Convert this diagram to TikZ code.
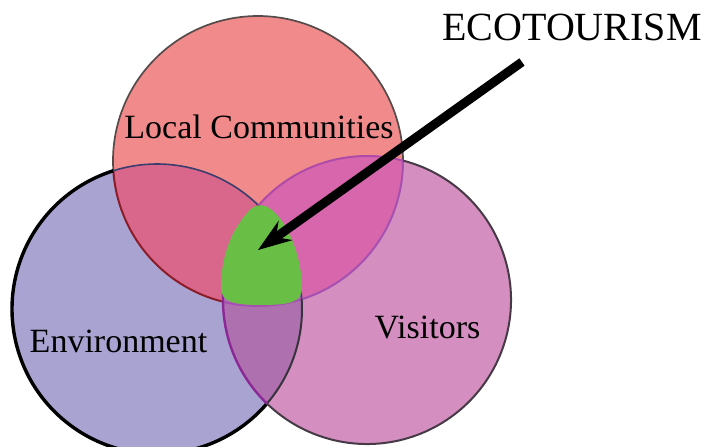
\documentclass[tikz,border=0pt]{standalone}
\usepackage{fontspec}
\setmainfont{Liberation Serif}
\usetikzlibrary{arrows.meta}

\definecolor{redfill}{RGB}{241,139,139}
\definecolor{bluefill}{RGB}{169,163,209}
\definecolor{purplefill}{RGB}{212,142,192}
\definecolor{redblue}{RGB}{216,103,139}
\definecolor{redpurple}{RGB}{216,102,172}
\definecolor{bluepurple}{RGB}{175,112,176}
\definecolor{ecogreen}{RGB}{105,190,70}
\definecolor{redline}{RGB}{85,75,75}
\definecolor{purpleline}{RGB}{70,58,70}
\definecolor{redinblue}{RGB}{140,28,40}
\definecolor{blueinred}{RGB}{60,60,110}
\definecolor{purpleinred}{RGB}{176,74,168}
\definecolor{redinpurple}{RGB}{166,80,178}
\definecolor{purpleinblue}{RGB}{140,40,150}
\definecolor{blueinpurple}{RGB}{55,50,60}

\begin{document}
\begin{tikzpicture}[x=1pt, y=-1pt]
      \tikzstyle{setname}=[inner sep=0pt, anchor=base, font=\fontsize{34}{40}\selectfont]
      \tikzstyle{pointer}=[line width=9pt, -{Stealth[length=34pt, width=24pt, inset=12pt, line width=1pt]}]
      \useasboundingbox (0,0) rectangle (705,447);

      \coordinate (red)    at (258,161);
      \coordinate (blue)   at (157,309);
      \coordinate (purple) at (367,300);

      % circles and overlaps
      \fill[redfill]    (red)    circle[radius=145];
      \fill[bluefill]   (blue)   circle[radius=145];
      \fill[purplefill] (purple) circle[radius=144];
      \begin{scope}
        \clip (red) circle[radius=145];
        \fill[redblue] (blue) circle[radius=145];
      \end{scope}
      \begin{scope}
        \clip (red) circle[radius=145];
        \fill[redpurple] (purple) circle[radius=144];
      \end{scope}
      \begin{scope}
        \clip (blue) circle[radius=145];
        \fill[bluepurple] (purple) circle[radius=144];
      \end{scope}

      % outlines, piece by piece
      \draw[redline, line width=1.7pt]      (red) ++(176.2:145) arc[start angle=176.2, end angle=360, radius=145];
      \draw[redinblue, line width=2pt]      (red) ++(104:145) arc[start angle=104, end angle=176.2, radius=145];
      \draw[redinpurple, line width=2pt]    (red) ++(0:145) arc[start angle=0, end angle=104, radius=145];
      \draw[black, line width=3.4pt]        (blue) ++(40.7:145) arc[start angle=40.7, end angle=252.5, radius=145];
      \draw[blueinred, line width=1.6pt]    (blue) ++(-107.5:145) arc[start angle=-107.5, end angle=-3.8, radius=145];
      \draw[blueinpurple, line width=2pt]   (blue) ++(-3.8:145) arc[start angle=-3.8, end angle=40.7, radius=145];
      \draw[purpleline, line width=2pt]     (purple) ++(-75.5:144) arc[start angle=-75.5, end angle=134, radius=144];
      \draw[purpleinblue, line width=2.4pt] (purple) ++(134:144) arc[start angle=134, end angle=221.1, radius=144];
      \draw[purpleinred, line width=2pt]    (purple) ++(221.1:144) arc[start angle=221.1, end angle=284.5, radius=144];

      % common part
      \fill[ecogreen] (248,212) .. controls (254,204) and (264,203) .. (272,210)
        .. controls (290,225) and (302,260) .. (302,288)
        .. controls (302,302) and (290,305) .. (262,305)
        .. controls (234,305) and (221,302) .. (221,288)
        .. controls (221,255) and (232,230) .. cycle;

      \node[setname] (local) at (259,138) {Local Communities};
      \node[setname] (env)   at (118.5,352) {Environment};
      \node[setname] (vis)   at (427.5,338) {Visitors};
      \node[setname, font=\fontsize{40}{46}\selectfont] (eco) at (572,40) {ECOTOURISM};

      \coordinate (tail) at (522,62);
      \coordinate (core) at (258,250);
      \draw[pointer] (tail) -- (core);
\end{tikzpicture}
\end{document}
